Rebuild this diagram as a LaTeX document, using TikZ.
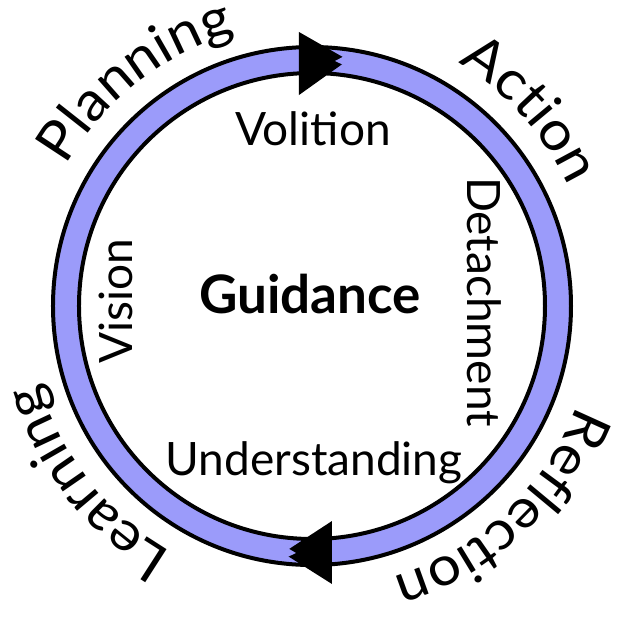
\documentclass[tikz,border=0pt]{standalone}
\usepackage{fontspec}
\setmainfont{Lato}
\usetikzlibrary{decorations.text}
\definecolor{ringfill}{RGB}{155,155,250}
\newfontfamily\lblfam[FakeStretch=1.06]{Lato}
\newcommand\lblfont{\lblfam\fontsize{55}{55}\selectfont}
\newcommand\innerfont{\fontsize{46}{46}\selectfont}
\newcommand\midfont{\fontsize{53}{53}\selectfont\bfseries}
\tikzset{
  ringline/.style={line width=4pt, draw=black, fill=ringfill, even odd rule},
  arrowhd/.style={fill=black, draw=none},
  notch/.style={fill=ringfill, draw=none},
  inner/.style={font=\innerfont, anchor=base, inner sep=0pt},
  curved/.style={decorate, decoration={text along path, text={|\lblfont|#1}, text align=center}}
}
\begin{document}
\begin{tikzpicture}[x=1pt,y=1pt]
\useasboundingbox (-312,-313) rectangle (309,306);
\coordinate (C) at (0,0);
% ring
\path[ringline] (C) circle (259pt) (C) circle (233pt);
% top arrow
\coordinate (t1) at (-13,274);
\coordinate (t2) at (-13,211);
\coordinate (t3) at (36,246);
\fill[arrowhd] (t1) -- (t3) -- (t2) -- cycle;
\coordinate (n1) at (23,245);
\coordinate (n2) at (40,254);
\coordinate (n3) at (40,237);
\fill[notch] (n1) -- (n2) -- (n3) -- cycle;
% bottom arrow
\coordinate (b1) at (20,-215);
\coordinate (b2) at (20,-278);
\coordinate (b3) at (-29,-247);
\fill[arrowhd] (b1) -- (b3) -- (b2) -- cycle;
\coordinate (m1) at (-16,-247);
\coordinate (m2) at (-33,-237);
\coordinate (m3) at (-33,-255);
\fill[notch] (m1) -- (m2) -- (m3) -- cycle;
% curved outer labels
\path[curved=Planning] (188:283pt) arc[start angle=188, end angle=68, radius=283pt];
\path[curved=Action] (102:283pt) arc[start angle=102, end angle=-18, radius=283pt];
\path[curved=Reflection] (13:283pt) arc[start angle=13, end angle=-107, radius=283pt];
\path[curved=Learning] (-82:283pt) arc[start angle=-82, end angle=-202, radius=283pt];
% inner labels
\node[inner] (vol) at (1,161) {Volition};
\node[inner] (und) at (2,-169) {Understanding};
\node[inner, rotate=90] (vis) at (-179,5) {Vision};
\node[inner, rotate=-90] (det) at (155,4) {Detachment};
\node[font=\midfont, anchor=base, inner sep=0pt] (gui) at (-2,-7) {Guidance};
\end{tikzpicture}
\end{document}
